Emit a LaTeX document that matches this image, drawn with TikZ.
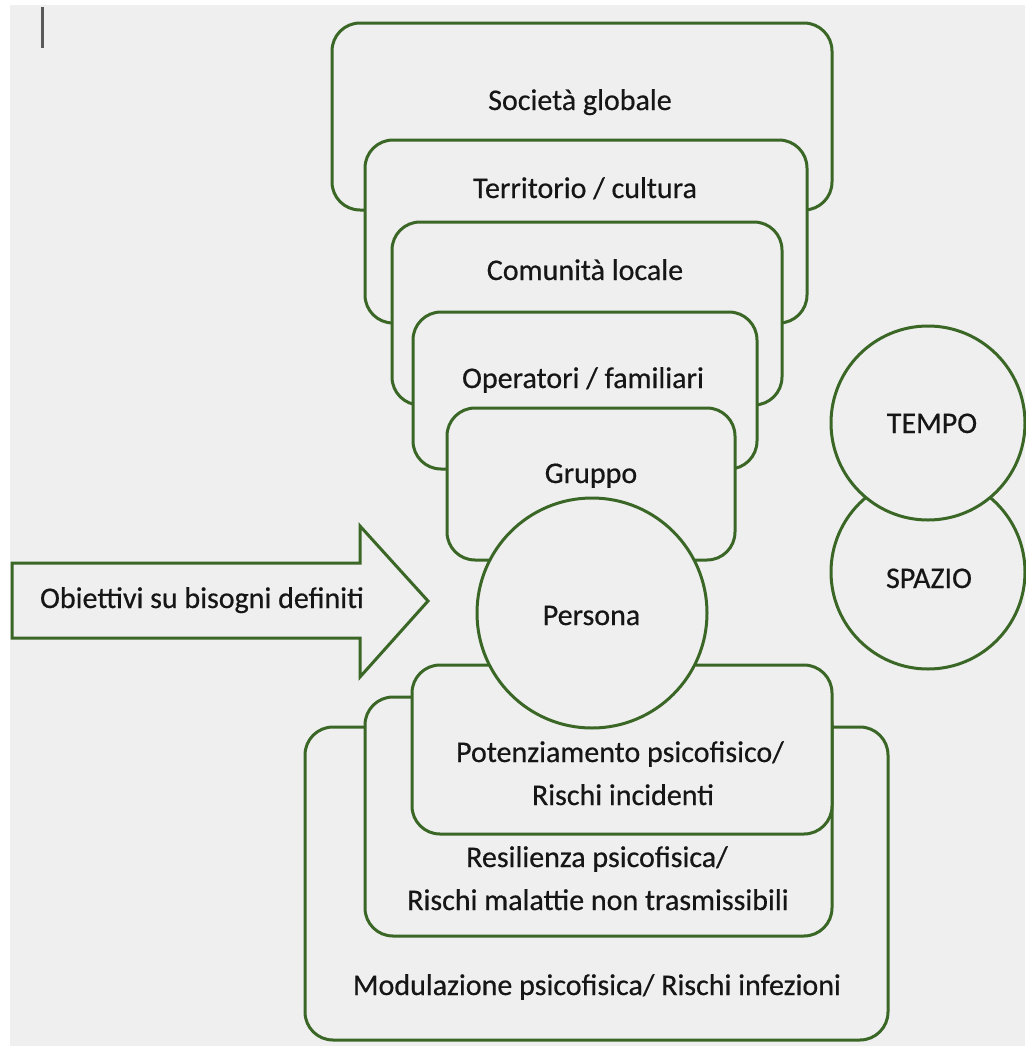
\documentclass[tikz,border=0pt]{standalone}
\usepackage{fontspec}
\setmainfont{Carlito}
\newfontfamily\lblfont{Carlito}[FakeBold=0.5]
\definecolor{lg}{HTML}{3A6626}
\definecolor{bg}{HTML}{EFEFEF}
\definecolor{tx}{HTML}{161616}
\begin{document}
\begin{tikzpicture}[x=0.75pt,y=-0.75pt,
  box/.style={draw=lg, line width=2.25pt, fill=bg, rounded corners=21pt},
  circ/.style={draw=lg, line width=2.25pt, fill=bg},
  arr/.style={draw=lg, line width=2.25pt, fill=bg, line join=miter},
  lbl/.style={text=tx, font=\lblfont\fontsize{22.5}{27}\selectfont, anchor=base, inner sep=0pt}]
\useasboundingbox (0,0) rectangle (1025,1046);
\fill[white] (0,0) rectangle (1025,1046);
\fill[bg] (10,5) rectangle (1025,1046);
% cursor mark
\draw[line width=2.25pt, color=black!65] (42,7) -- (42,48);
% upper stack
\draw[box] (332,23) rectangle (832,210);
\draw[box] (365,140) rectangle (807,323);
\draw[box] (392,222) rectangle (782,405);
\draw[box] (413,312) rectangle (757,469);
\draw[box] (447,408) rectangle (735,560);
% lower stack
\draw[box] (305,727) rectangle (888,1040);
\draw[box] (365,697) rectangle (832,936);
\draw[box] (412,665) rectangle (832,834);
% persona circle
\draw[circ] (592,613) circle[radius=115];
% tempo / spazio
\draw[circ] (928,572) circle[radius=97];
\draw[circ] (928,423) circle[radius=97];
% arrow
\draw[arr] (12,563) -- (360,563) -- (360,526) -- (428,601) -- (360,677) -- (360,638) -- (12,638) -- cycle;
% labels
\node[lbl] (soc) at (580,110) {Società globale};
\node[lbl] (ter) at (585,198) {Territorio / cultura};
\node[lbl] (com) at (585,280) {Comunità locale};
\node[lbl] (ope) at (583,388) {Operatori / familiari};
\node[lbl] (gru) at (591,483) {Gruppo};
\node[lbl] (per) at (591.5,625) {Persona};
\node[lbl] (tem) at (932,433) {TEMPO};
\node[lbl] (spa) at (929,588) {SPAZIO};
\node[lbl] (obi) at (202,608) {Obiettivi su bisogni definiti};
\node[lbl] (pot1) at (620,762) {Potenziamento psicofisico/};
\node[lbl] (pot2) at (623,805) {Rischi incidenti};
\node[lbl] (res1) at (597,867) {Resilienza psicofisica/};
\node[lbl] (res2) at (598,910) {Rischi malattie non trasmissibili};
\node[lbl] (mod) at (597,995) {Modulazione psicofisica/ Rischi infezioni};
\end{tikzpicture}
\end{document}
